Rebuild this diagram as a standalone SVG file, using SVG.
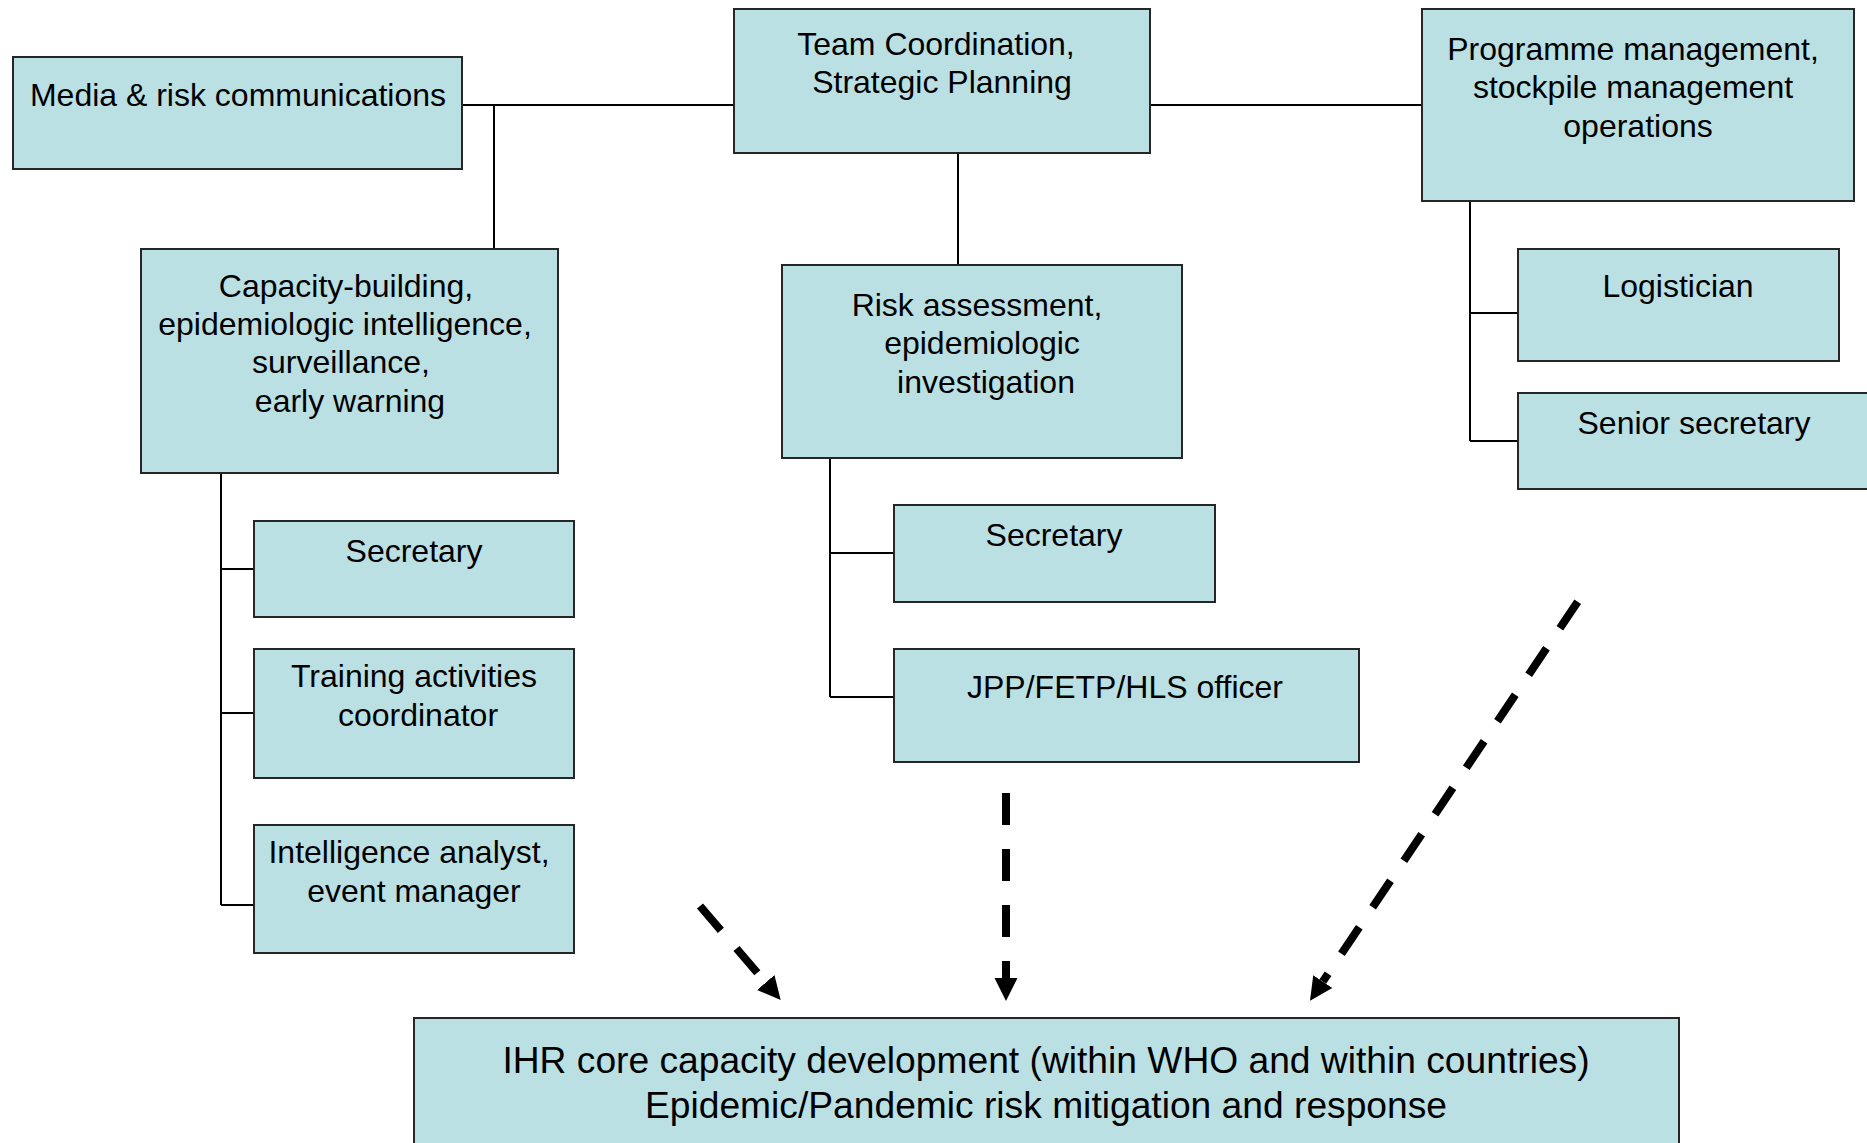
<svg xmlns="http://www.w3.org/2000/svg" width="1867" height="1143" viewBox="0 0 1867 1143">
<style>
.box{fill:#BBE0E3;stroke:#262626;stroke-width:2}
.t{font-family:"Liberation Sans",Arial,sans-serif;font-size:32px;fill:#000;text-anchor:middle}
.big{font-size:37.2px}
.conn{stroke:#000;stroke-width:2;fill:none}
.dash{stroke:#000;stroke-width:8;fill:none;stroke-dasharray:32 24}
</style>
<defs>
<marker id="ah" markerUnits="userSpaceOnUse" markerWidth="24" markerHeight="24" viewBox="0 -12 24 24" refX="0" refY="0" orient="auto">
<path d="M0,-11.5 L23,0 L0,11.5 z" fill="#000"/>
</marker>
</defs>
<rect width="1867" height="1143" fill="#fff"/>
<g id="connectors">
<path class="conn" d="M462 105 H734 M494 105 V249 M1150 105 H1422 M958 153 V265"/>
<path class="conn" d="M221 473 V905 M221 569 H254 M221 713 H254 M221 905 H254"/>
<path class="conn" d="M830 458 V697 M830 553 H894 M830 697 H894"/>
<path class="conn" d="M1470 201 V441 M1470 313 H1518 M1470 441 H1518"/>
<path class="dash" d="M700 906 L765.7 982.5" marker-end="url(#ah)"/>
<path class="dash" d="M1006 793 L1006 978" marker-end="url(#ah)"/>
<path class="dash" d="M1577.7 601.7 L1322.8 981.6" marker-end="url(#ah)"/>
</g>
<g id="media"><rect class="box" x="13" y="57" width="449" height="112"/><text class="t" x="238" y="106">Media &amp; risk communications</text></g>
<g id="team"><rect class="box" x="734" y="9" width="416" height="144"/><text class="t" x="936" y="55">Team Coordination,</text><text class="t" x="942" y="93">Strategic Planning</text></g>
<g id="programme"><rect class="box" x="1422" y="9" width="432" height="192"/><text class="t" x="1633" y="60">Programme management,</text><text class="t" x="1633" y="98">stockpile management</text><text class="t" x="1638" y="137">operations</text></g>
<g id="capacity"><rect class="box" x="141" y="249" width="417" height="224"/><text class="t" x="346" y="297">Capacity-building,</text><text class="t" x="345" y="335">epidemiologic intelligence,</text><text class="t" x="341" y="373">surveillance,</text><text class="t" x="350" y="412">early warning</text></g>
<g id="risk"><rect class="box" x="782" y="265" width="400" height="193"/><text class="t" x="977" y="316">Risk assessment,</text><text class="t" x="982" y="354">epidemiologic</text><text class="t" x="986" y="393">investigation</text></g>
<g id="logistician"><rect class="box" x="1518" y="249" width="321" height="112"/><text class="t" x="1678" y="297">Logistician</text></g>
<g id="senior-secretary"><rect class="box" x="1518" y="393" width="352" height="96"/><text class="t" x="1694" y="434">Senior secretary</text></g>
<g id="secretary1"><rect class="box" x="254" y="521" width="320" height="96"/><text class="t" x="414" y="562">Secretary</text></g>
<g id="training"><rect class="box" x="254" y="649" width="320" height="129"/><text class="t" x="414" y="687">Training activities</text><text class="t" x="418" y="726">coordinator</text></g>
<g id="intelligence"><rect class="box" x="254" y="825" width="320" height="128"/><text class="t" x="409" y="863">Intelligence analyst,</text><text class="t" x="414" y="902">event manager</text></g>
<g id="secretary2"><rect class="box" x="894" y="505" width="321" height="97"/><text class="t" x="1054" y="546">Secretary</text></g>
<g id="jpp"><rect class="box" x="894" y="649" width="465" height="113"/><text class="t" x="1125" y="698">JPP/FETP/HLS officer</text></g>
<g id="ihr"><rect class="box" x="414" y="1018" width="1265" height="140"/><text class="t big" x="1046" y="1073">IHR core capacity development (within WHO and within countries)</text><text class="t big" x="1046" y="1118">Epidemic/Pandemic risk mitigation and response</text></g>
</svg>
